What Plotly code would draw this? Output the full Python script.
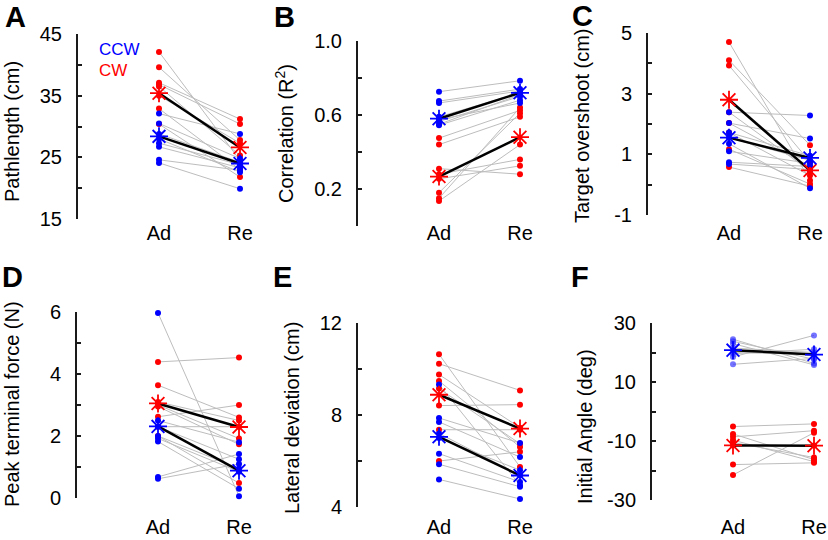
import plotly.graph_objects as go

# Panel A - Pathlength (cm)
path_ccw_ad = [32.1, 30.5, 28.8, 28.0, 27.3, 26.7, 24.6, 24.1]
path_ccw_re = [28.8, 24.8, 24.2, 22.6, 23.8, 23.3, 22.9, 19.9]
path_cw_ad = [42.1, 39.6, 37.1, 36.8, 36.5, 35.0, 32.9, 30.4]
path_cw_re = [24.5, 27.8, 31.2, 30.4, 25.3, 27.3, 23.0, 21.8]
path_mean_ccw = [28.4, 24.0]
path_mean_cw = [35.4, 26.6]

# Panel B - Correlation (R2)
corr_ccw_ad = [0.726, 0.675, 0.665, 0.59, 0.575, 0.565, 0.55, 0.545]
corr_ccw_re = [0.785, 0.74, 0.73, 0.72, 0.665, 0.70, 0.71, 0.68]
corr_cw_ad = [0.475, 0.44, 0.31, 0.28, 0.255, 0.18, 0.15, 0.135]
corr_cw_re = [0.625, 0.59, 0.28, 0.36, 0.325, 0.61, 0.64, 0.44]
corr_mean_ccw = [0.58, 0.72]
corr_mean_cw = [0.267, 0.48]

# Panel C - Target overshoot (cm)
over_ccw_ad = [2.39, 2.03, 1.72, 1.55, 1.35, 1.10, 0.74, 0.68]
over_ccw_re = [2.28, 1.52, 0.95, 0.80, -0.12, 0.70, 0.60, 0.50]
over_cw_ad = [4.70, 4.10, 3.93, 2.39, 2.03, 1.72, 1.17, 0.58]
over_cw_re = [0.14, 1.30, 0.75, 0.45, 0.60, 0.30, 0.02, -0.05]
over_mean_ccw = [1.55, 0.88]
over_mean_cw = [2.80, 0.47]

# Panel D - Peak terminal force (N)
force_ccw_ad = [5.97, 2.5, 2.3, 2.0, 1.92, 1.82, 0.68, 0.62]
force_ccw_re = [0.06, 1.8, 1.25, 0.95, 0.85, 0.30, 1.42, 1.1]
force_cw_ad = [4.39, 3.64, 3.10, 3.0, 2.95, 2.62, 2.3, 2.0]
force_cw_re = [4.53, 2.6, 2.5, 1.92, 1.73, 3.0, 2.3, 0.48]
force_mean_ccw = [2.31, 0.88]
force_mean_cw = [3.05, 2.29]

# Panel E - Lateral deviation (cm)
lat_ccw_ad = [9.33, 7.87, 7.70, 7.2, 7.0, 6.32, 5.86, 5.20]
lat_ccw_re = [4.95, 6.78, 6.17, 5.38, 5.6, 5.09, 4.88, 4.35]
lat_cw_ad = [10.64, 10.23, 9.76, 9.48, 9.15, 8.41, 7.36, 6.0]
lat_cw_re = [5.74, 9.07, 7.45, 6.61, 6.75, 8.45, 7.36, 6.4]
lat_mean_ccw = [7.05, 5.37]
lat_mean_cw = [8.88, 7.41]

# Panel F - Initial Angle (deg)
ang_ccw_ad = [24.5, 23.8, 23.0, 21.5, 20.0, 19.6, 18.5, 16.0]
ang_ccw_re = [16.3, 17.7, 15.8, 20.0, 19.3, 21.1, 25.8, 18.0]
ang_cw_ad = [-5.1, -7.6, -8.6, -9.7, -10.5, -11.5, -18.0, -21.5]
ang_cw_re = [-4.2, -16.3, -6.5, -17.0, -15.6, -11.5, -17.4, -7.2]
ang_mean_ccw = [20.8, 19.3]
ang_mean_cw = [-11.5, -11.6]

phases = ['Ad', 'Re']
FONT = 'Liberation Sans'
W, H = 828, 540

panels = [
    dict(letter='A', title='Pathlength (cm)', ccw=(path_ccw_ad, path_ccw_re), cw=(path_cw_ad, path_cw_re),
         mccw=path_mean_ccw, mcw=path_mean_cw, rng=[15, 45], ticks=[15, 20, 25, 30, 35, 40, 45],
         labels=['15', '', '25', '', '35', '', '45'],
         ax=78, top=34, bot=219, lab=219, tx=12, ty=132, lx=15, ly=17, faded=False),
    dict(letter='B', title='Correlation (R<sup>2</sup>)', ccw=(corr_ccw_ad, corr_ccw_re), cw=(corr_cw_ad, corr_cw_re),
         mccw=corr_mean_ccw, mcw=corr_mean_cw, rng=[0, 1.0], ticks=[0, 0.2, 0.4, 0.6, 0.8, 1.0],
         labels=['', '0.2', '', '0.6', '', '1.0'],
         ax=358, top=41, bot=226, lab=219, tx=285, ty=134, lx=284, ly=17, faded=False),
    dict(letter='C', title='Target overshoot (cm)', ccw=(over_ccw_ad, over_ccw_re), cw=(over_cw_ad, over_cw_re),
         mccw=over_mean_ccw, mcw=over_mean_cw, rng=[-1, 5], ticks=[-1, 0, 1, 2, 3, 4, 5],
         labels=['-1', '', '1', '', '3', '', '5'],
         ax=648, top=33, bot=215, lab=219, tx=582, ty=126, lx=582, ly=16, faded=False),
    dict(letter='D', title='Peak terminal force (N)', ccw=(force_ccw_ad, force_ccw_re), cw=(force_cw_ad, force_cw_re),
         mccw=force_mean_ccw, mcw=force_mean_cw, rng=[0, 6], ticks=[0, 1, 2, 3, 4, 5, 6],
         labels=['0', '', '2', '', '4', '', '6'],
         ax=77, top=312, bot=498, lab=513, tx=12, ty=404, lx=12, ly=277, faded=False),
    dict(letter='E', title='Lateral deviation (cm)', ccw=(lat_ccw_ad, lat_ccw_re), cw=(lat_cw_ad, lat_cw_re),
         mccw=lat_mean_ccw, mcw=lat_mean_cw, rng=[4, 12], ticks=[4, 6, 8, 10, 12],
         labels=['4', '', '8', '', '12'],
         ax=358, top=323, bot=507, lab=513, tx=292, ty=418, lx=282, ly=277, faded=False),
    dict(letter='F', title='Initial Angle (deg)', ccw=(ang_ccw_ad, ang_ccw_re), cw=(ang_cw_ad, ang_cw_re),
         mccw=ang_mean_ccw, mcw=ang_mean_cw, rng=[-30, 30], ticks=[-30, -20, -10, 0, 10, 20, 30],
         labels=['-30', '', '-10', '', '10', '', '30'],
         ax=652, top=323, bot=500, lab=513, tx=585, ty=427, lx=580, ly=277, faded=True),
]

fig = go.Figure()
annotations = []
UNIT = 81  # pixels per x unit (Ad at 1, Re at 2)

for i, p in enumerate(panels):
    n = '' if i == 0 else str(i + 1)
    xa, ya = 'x' + n, 'y' + n
    span = min(182, W - p['ax'])
    # individual subjects
    for grp in (p['cw'], p['ccw']):
        for a, r in zip(grp[0], grp[1]):
            fig.add_trace(go.Scatter(x=[1, 2], y=[a, r], mode='lines', xaxis=xa, yaxis=ya,
                                     line=dict(color='#bdbdbd', width=1), showlegend=False, hoverinfo='skip'))
    for grp, col in ((p['cw'], 'red'), (p['ccw'], 'rgba(40,40,255,0.65)' if p['faded'] else 'blue')):
        xs = [1] * len(grp[0]) + [2] * len(grp[1])
        fig.add_trace(go.Scatter(x=xs, y=list(grp[0]) + list(grp[1]), mode='markers', xaxis=xa, yaxis=ya,
                                 marker=dict(color=col, size=6), showlegend=False, cliponaxis=False))
    for m in (p['mcw'], p['mccw']):
        fig.add_trace(go.Scatter(x=[1, 2], y=m, mode='lines', xaxis=xa, yaxis=ya,
                                 line=dict(color='black', width=2.5), showlegend=False))
    for m, col in ((p['mcw'], 'red'), (p['mccw'], 'blue')):
        fig.add_trace(go.Scatter(x=[1, 2], y=m, mode='markers', xaxis=xa, yaxis=ya, cliponaxis=False,
                                 marker=dict(symbol='asterisk-open', size=15, color=col,
                                             line=dict(color=col, width=1.8)), showlegend=False))

    fig.layout['xaxis' + n] = dict(domain=[p['ax'] / W, (p['ax'] + span) / W], range=[0, span / UNIT],
                                   anchor='free', position=1 - p['lab'] / H, automargin=False,
                                   tickvals=[1, 2], ticktext=phases, showline=False, showgrid=False,
                                   zeroline=False, ticks='', tickfont=dict(size=20, color='black'))
    fig.layout['yaxis' + n] = dict(domain=[1 - p['bot'] / H, 1 - p['top'] / H], range=p['rng'], anchor=xa,
                                   tickvals=p['ticks'], ticktext=p['labels'], showline=True, automargin=False,
                                   linecolor='#1a1a1a', linewidth=2, ticks='inside', ticklen=4,
                                   tickwidth=2, tickcolor='#1a1a1a', showgrid=False, zeroline=False,
                                   ticklabelstandoff=10, tickfont=dict(size=20, color='black'))
    annotations.append(dict(text=p['title'], x=p['tx'] / W, y=1 - p['ty'] / H, xref='paper', yref='paper',
                            textangle=-90, showarrow=False, xanchor='center', yanchor='middle',
                            font=dict(size=20, color='black')))
    annotations.append(dict(text='<b>' + p['letter'] + '</b>', x=p['lx'] / W, y=1 - p['ly'] / H,
                            xref='paper', yref='paper', showarrow=False, xanchor='center',
                            yanchor='middle', font=dict(size=29, color='black')))

annotations.append(dict(text='CCW', x=97 / W, y=1 - 49 / H, xref='paper', yref='paper', showarrow=False,
                        xanchor='left', yanchor='middle', font=dict(size=17, color='blue')))
annotations.append(dict(text='CW', x=97 / W, y=1 - 70 / H, xref='paper', yref='paper', showarrow=False,
                        xanchor='left', yanchor='middle', font=dict(size=17, color='red')))

fig.update_layout(width=W, height=H, margin=dict(l=0, r=0, t=0, b=0), annotations=annotations,
                  paper_bgcolor='white', plot_bgcolor='white', font=dict(family=FONT, color='black'),
                  showlegend=False)
# page body margin off so the figure sits at the window's top-left corner
fig.write_html('out.html', config={'displayModeBar': False},
               post_script="document.body.style.margin='0';")
